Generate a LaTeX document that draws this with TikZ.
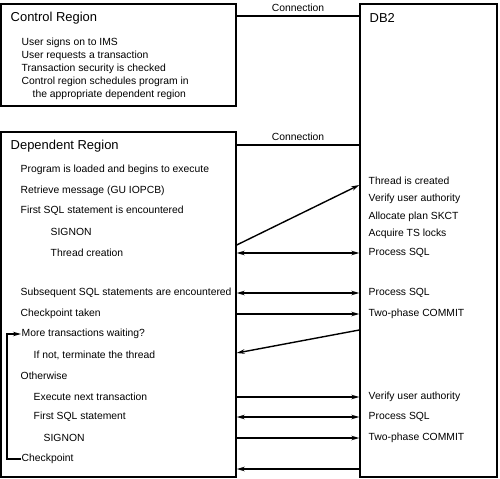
\documentclass[tikz,border=0pt]{standalone}
\usepackage{fontspec}
\setmainfont{Liberation Sans}
\usetikzlibrary{arrows.meta}
\begin{document}
\begin{tikzpicture}[x=1bp,y=-1bp,line width=1.4bp,
  boxst/.style={draw,inner sep=0pt},
  txt/.style={anchor=west,inner sep=0pt,font=\fontsize{10.4}{12}\selectfont},
  ttl/.style={anchor=west,inner sep=0pt,font=\fontsize{13}{15}\selectfont},
  lbl/.style={inner sep=0pt,font=\fontsize{10.4}{12}\selectfont},
  arr/.style={-{Stealth[length=8bp,width=4.5bp]}},
  darr/.style={{Stealth[length=8bp,width=4.5bp]}-{Stealth[length=8bp,width=4.5bp]}}]
\fill[white] (0,0) rectangle (500,479);
\useasboundingbox (0,0) rectangle (500,479);
% boxes
\node[boxst,minimum width=235bp,minimum height=102bp] (ctrl) at (118.5,55) {};
\node[boxst,minimum width=235bp,minimum height=345bp] (dep) at (118.5,304.5) {};
\node[boxst,minimum width=137bp,minimum height=473bp] (db2) at (428.5,240.5) {};
% titles
\node[ttl] (ctrlt) at (10,18) {Control Region};
\node[ttl] (dept) at (10,146) {Dependent Region};
\node[ttl] (db2t) at (369,18) {DB2};
% control region items
\node[txt] (c1) at (21,43) {User signs on to IMS};
\node[txt] (c2) at (21,56) {User requests a transaction};
\node[txt] (c3) at (21,69) {Transaction security is checked};
\node[txt] (c4) at (21,82) {Control region schedules program in};
\node[txt] (c5) at (32,95) {the appropriate dependent region};
% dependent region items
\node[txt] (p1) at (20,170) {Program is loaded and begins to execute};
\node[txt] (p2) at (20,191) {Retrieve message (GU IOPCB)};
\node[txt] (p3) at (20,211) {First SQL statement is encountered};
\node[txt] (p4) at (50,232) {SIGNON};
\node[txt] (p5) at (50,253) {Thread creation};
\node[txt] (p6) at (20,293) {Subsequent SQL statements are encountered};
\node[txt] (p7) at (20,314) {Checkpoint taken};
\node[txt] (p8) at (21,334) {More transactions waiting?};
\node[txt] (p9) at (33,355) {If not, terminate the thread};
\node[txt] (p10) at (20,376) {Otherwise};
\node[txt] (p11) at (33,397) {Execute next transaction};
\node[txt] (p12) at (33,417) {First SQL statement};
\node[txt] (p13) at (43,438) {SIGNON};
\node[txt] (p14) at (21,459) {Checkpoint};
% DB2 items
\node[txt] (d1) at (368,181) {Thread is created};
\node[txt] (d2) at (368,199) {Verify user authority};
\node[txt] (d3) at (368,217) {Allocate plan SKCT};
\node[txt] (d4) at (368,234) {Acquire TS locks};
\node[txt] (d5) at (368,253) {Process SQL};
\node[txt] (d6) at (368,293) {Process SQL};
\node[txt] (d7) at (368,314) {Two-phase COMMIT};
\node[txt] (d8) at (368,397) {Verify user authority};
\node[txt] (d9) at (368,417) {Process SQL};
\node[txt] (d10) at (368,438) {Two-phase COMMIT};
% connections
\draw (ctrl.east |- 0,16) -- node[lbl,above=4bp] (conn1) {Connection} (db2.west |- 0,16);
\draw (dep.east |- 0,145) -- node[lbl,above=4bp] (conn2) {Connection} (db2.west |- 0,145);
% arrows
\draw[arr] (dep.east |- 0,245) -- (db2.west |- 0,185);
\draw[darr] (dep.east |- d5) -- (db2.west |- d5);
\draw[darr] (dep.east |- d6) -- (db2.west |- d6);
\draw[arr] (dep.east |- d7) -- (db2.west |- d7);
\draw[arr] (db2.west |- 0,330) -- (dep.east |- 0,353);
\draw[arr] (dep.east |- d8) -- (db2.west |- d8);
\draw[darr] (dep.east |- d9) -- (db2.west |- d9);
\draw[arr] (dep.east |- d10) -- (db2.west |- d10);
\draw[arr] (db2.west |- 0,469) -- (dep.east |- 0,469);
% loop
\draw[arr] (p14.west) -- ++(-14,0) |- (p8.west);
\end{tikzpicture}
\end{document}
